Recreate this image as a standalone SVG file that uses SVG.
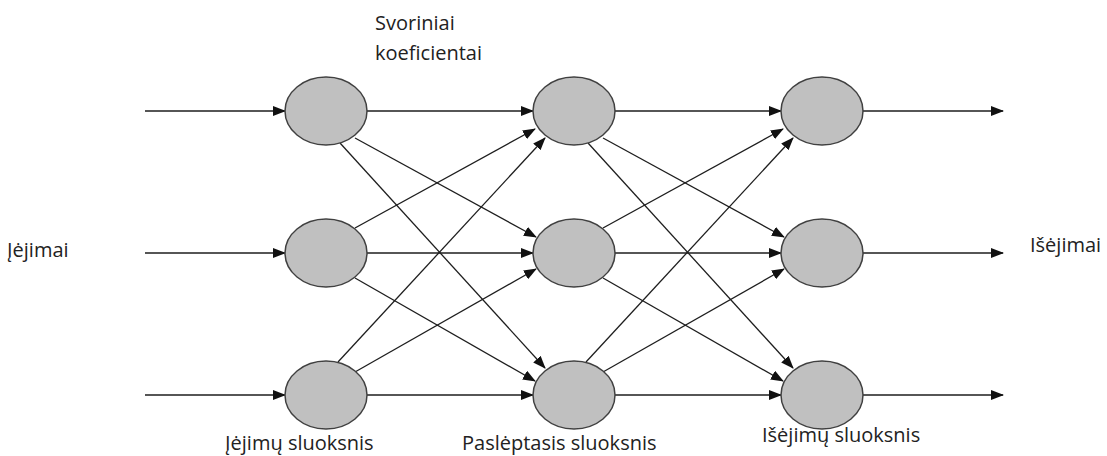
<svg xmlns="http://www.w3.org/2000/svg" width="1107" height="456" viewBox="0 0 1107 456">
<style>
.n{fill:#c0c0c0;stroke:#404040;stroke-width:1.5}
.c line{stroke:#1e1e1e;stroke-width:1.3;marker-end:url(#ah)}
.t{font-family:"Open Sans","Noto Sans",sans-serif;font-size:20px;fill:#222}
</style>
<defs>
<marker id="ah" markerUnits="userSpaceOnUse" markerWidth="13" markerHeight="10" refX="12" refY="5" orient="auto">
<path d="M0,0 L13,5 L0,10 z" fill="#111"/>
</marker>
</defs>
<rect width="1107" height="456" fill="#fff"/>
<g class="c" id="connectors">
<line x1="145" y1="111" x2="285" y2="111"/>
<line x1="145" y1="253" x2="285" y2="253"/>
<line x1="145" y1="395" x2="285" y2="395"/>
<line x1="367" y1="111" x2="533" y2="111"/>
<line x1="367" y1="253" x2="533" y2="253"/>
<line x1="367" y1="395" x2="533" y2="395"/>
<line x1="355" y1="138" x2="536" y2="237"/>
<line x1="340" y1="143" x2="545" y2="368"/>
<line x1="355" y1="228" x2="535" y2="129"/>
<line x1="355" y1="278" x2="535" y2="381"/>
<line x1="338" y1="362" x2="545" y2="138"/>
<line x1="355" y1="372" x2="536" y2="269"/>
<line x1="615" y1="111" x2="781" y2="111"/>
<line x1="615" y1="253" x2="781" y2="253"/>
<line x1="615" y1="395" x2="781" y2="395"/>
<line x1="603" y1="138" x2="784" y2="237"/>
<line x1="588" y1="143" x2="793" y2="368"/>
<line x1="603" y1="228" x2="783" y2="129"/>
<line x1="603" y1="278" x2="783" y2="381"/>
<line x1="586" y1="362" x2="793" y2="138"/>
<line x1="603" y1="372" x2="784" y2="269"/>
<line x1="863" y1="111" x2="1003" y2="111"/>
<line x1="863" y1="253" x2="1003" y2="253"/>
<line x1="863" y1="395" x2="1003" y2="395"/>
</g>
<g id="in1"><ellipse class="n" cx="326" cy="111" rx="41" ry="34"/></g>
<g id="in2"><ellipse class="n" cx="326" cy="253" rx="41" ry="34"/></g>
<g id="in3"><ellipse class="n" cx="326" cy="395" rx="41" ry="34"/></g>
<g id="h1"><ellipse class="n" cx="574" cy="111" rx="41" ry="34"/></g>
<g id="h2"><ellipse class="n" cx="574" cy="253" rx="41" ry="34"/></g>
<g id="h3"><ellipse class="n" cx="574" cy="395" rx="41" ry="34"/></g>
<g id="o1"><ellipse class="n" cx="822" cy="111" rx="41" ry="34"/></g>
<g id="o2"><ellipse class="n" cx="822" cy="253" rx="41" ry="34"/></g>
<g id="o3"><ellipse class="n" cx="822" cy="395" rx="41" ry="34"/></g>
<g id="labels">
<text class="t" x="375" y="30">Svoriniai</text>
<text class="t" x="375" y="60">koeficientai</text>
<text class="t" x="7" y="257">Įėjimai</text>
<text class="t" x="1030" y="252">Išėjimai</text>
<text class="t" x="225" y="450">Įėjimų sluoksnis</text>
<text class="t" x="462" y="450">Paslėptasis sluoksnis</text>
<text class="t" x="762" y="442">Išėjimų sluoksnis</text>
</g>
</svg>
